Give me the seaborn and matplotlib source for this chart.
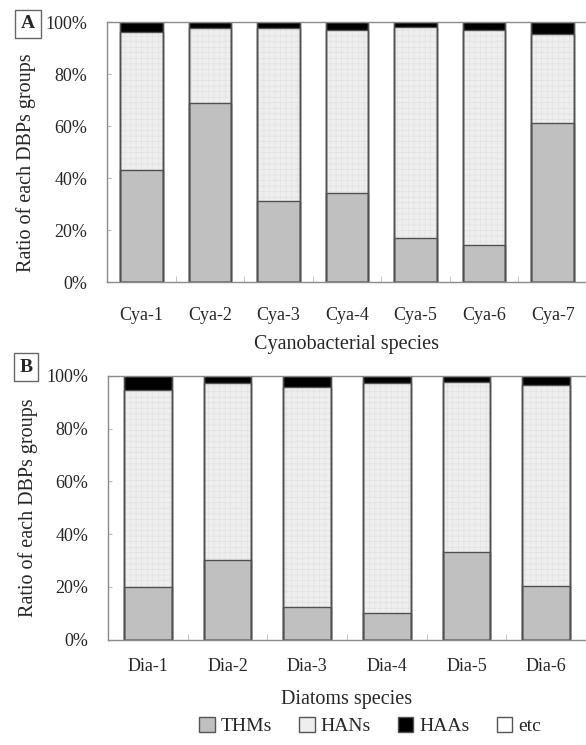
import numpy as np
import pandas as pd
import matplotlib.pyplot as plt
import seaborn as sns
from matplotlib.patches import Patch
from matplotlib.ticker import FixedLocator

# Panel A - cyanobacterial species (% of each DBP group)
cya_species = ['Cya-1', 'Cya-2', 'Cya-3', 'Cya-4', 'Cya-5', 'Cya-6', 'Cya-7']
cya_thms = [43.0, 68.7, 31.2, 34.2, 16.9, 14.2, 61.0]
cya_hans = [53.3, 29.0, 66.5, 62.8, 81.2, 82.8, 34.5]
cya_haas = [3.7, 2.3, 2.3, 3.0, 1.9, 3.0, 4.5]
cya_etc = [0, 0, 0, 0, 0, 0, 0]

# Panel B - diatoms species
dia_species = ['Dia-1', 'Dia-2', 'Dia-3', 'Dia-4', 'Dia-5', 'Dia-6']
dia_thms = [20.0, 30.0, 12.4, 10.2, 33.3, 20.4]
dia_hans = [74.7, 67.5, 83.6, 87.2, 64.4, 76.2]
dia_haas = [5.3, 2.5, 4.0, 2.6, 2.3, 3.4]
dia_etc = [0, 0, 0, 0, 0, 0]

groups = ['THMs', 'HANs', 'HAAs', 'etc']
colors = {'THMs': '#c0c0c0', 'HANs': '#eeeeee', 'HAAs': '#000000', 'etc': '#ffffff'}
edge = '#505050'
spine_col = '#8a8a8a'

sns.set_style('white')
plt.rcParams['font.family'] = ['Liberation Serif', 'DejaVu Serif']
plt.rcParams['hatch.linewidth'] = 0.4


def draw_panel(ax, species, thms, hans, haas, etc, width, xlabel,
               tick_pad, xlabel_pad, ylabel_y):
    df = pd.DataFrame({'species': species, 'THMs': thms, 'HANs': hans,
                       'HAAs': haas, 'etc': etc})
    cum = df[groups].cumsum(axis=1)

    # filled layers, tallest first so lower groups sit on top
    for g in reversed(groups):
        if g == 'HANs':
            kw = dict(hatch='+++', edgecolor='#e0e0e0', linewidth=0)
        else:
            kw = dict(linewidth=0)
        sns.barplot(x=df['species'], y=cum[g], color=colors[g], saturation=1,
                    width=width, errorbar=None, ax=ax, **kw)
    # outlines
    for g in reversed(groups):
        sns.barplot(x=df['species'], y=cum[g], color=edge, fill=False,
                    width=width, errorbar=None, linewidth=1.0, ax=ax)

    n = len(species)
    ax.set_xlim(-0.5, n - 0.5)
    ax.set_ylim(0, 100)
    ax.set_yticks([0, 20, 40, 60, 80, 100])
    ax.set_yticklabels([f'{v}%' for v in [0, 20, 40, 60, 80, 100]], fontsize=13)
    ax.set_xticks(range(n))
    ax.set_xticklabels(species, fontsize=13)
    ax.xaxis.set_minor_locator(FixedLocator(np.arange(0.5, n - 1, 1.0)))
    ax.tick_params(axis='x', which='major', length=0, pad=tick_pad)
    ax.tick_params(axis='x', which='minor', direction='in', length=4,
                   color='#bbbbbb', bottom=True)
    ax.tick_params(axis='y', direction='in', length=3, color='#bbbbbb',
                   left=True, pad=14)
    ax.set_xlabel(xlabel, fontsize=14.5, labelpad=xlabel_pad)
    ax.set_ylabel('Ratio of each DBPs groups', fontsize=14.5)
    ax.yaxis.set_label_coords(-0.147, ylabel_y)
    for s in ['top', 'left', 'bottom']:
        ax.spines[s].set_color(spine_col)
        ax.spines[s].set_linewidth(1.0)
    ax.spines['right'].set_visible(False)


fig = plt.figure(figsize=(5.86, 7.45), dpi=100)
ax_a = fig.add_axes([107 / 586, 1 - 282 / 745, 480 / 586, 260 / 745])
ax_b = fig.add_axes([108 / 586, 1 - 639.5 / 745, 478 / 586, 263.5 / 745])

draw_panel(ax_a, cya_species, cya_thms, cya_hans, cya_haas, cya_etc,
           0.62, 'Cyanobacterial species', 18, 8, 0.46)
draw_panel(ax_b, dia_species, dia_thms, dia_hans, dia_haas, dia_etc,
           0.6, 'Diatoms species', 13, 11, 0.5)

box = dict(boxstyle='square,pad=0.3', facecolor='white', edgecolor='#666666',
           linewidth=1)
fig.text(28 / 586, 1 - 24 / 745, 'A', fontsize=14, fontweight='bold',
         ha='center', va='center', bbox=box)
fig.text(26 / 586, 1 - 367 / 745, 'B', fontsize=14, fontweight='bold',
         ha='center', va='center', bbox=box)

handles = [Patch(facecolor=colors[g], edgecolor='#555555', linewidth=1,
                 label=g) for g in groups]
fig.legend(handles=handles, loc='center', bbox_to_anchor=(370 / 586, 1 - 726 / 745),
           ncol=4, frameon=False, fontsize=14, handlelength=0.8,
           handleheight=0.8, handletextpad=0.3, columnspacing=1.4)

fig.savefig('out.png', dpi=100)
